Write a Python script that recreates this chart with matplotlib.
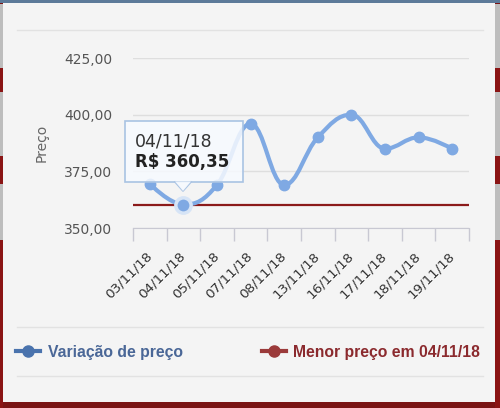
import matplotlib
matplotlib.use("Agg")
import matplotlib.pyplot as plt
from matplotlib.patches import Rectangle, FancyBboxPatch, Polygon, PathPatch
from matplotlib.path import Path
from matplotlib.lines import Line2D

# data
datas = ["03/11/18", "04/11/18", "05/11/18", "07/11/18", "08/11/18",
         "13/11/18", "16/11/18", "17/11/18", "18/11/18", "19/11/18"]
precos = [369.5, 360.35, 369.0, 396.0, 369.0, 390.0, 400.0, 385.0, 390.0, 385.0]
menor_preco = 360.35
yticks = [350, 375, 400, 425]

W, H = 500, 408
fig = plt.figure(figsize=(W / 100, H / 100), dpi=100)
fig.patch.set_facecolor("#7a1414")


def px(x, y):
    # pixel coords (top-left origin) -> figure fraction
    return x / W, 1 - y / H


def spline_path(xs, ys, smoothing=1.5):
    # bezier path through the points, same idea as a highcharts "spline"
    n = len(xs)
    left = [None] * n
    right = [None] * n
    denom = smoothing + 1
    for i in range(1, n - 1):
        lx, ly = xs[i - 1], ys[i - 1]
        nx, ny = xs[i + 1], ys[i + 1]
        x, y = xs[i], ys[i]
        lcx = (smoothing * x + lx) / denom
        lcy = (smoothing * y + ly) / denom
        rcx = (smoothing * x + nx) / denom
        rcy = (smoothing * y + ny) / denom
        corr = (rcy - lcy) * (rcx - x) / (rcx - lcx) + y - rcy
        lcy += corr
        rcy += corr
        if lcy > ly and lcy > y:
            lcy = max(ly, y)
            rcy = 2 * y - lcy
        elif lcy < ly and lcy < y:
            lcy = min(ly, y)
            rcy = 2 * y - lcy
        if rcy > ny and rcy > y:
            rcy = max(ny, y)
            lcy = 2 * y - rcy
        elif rcy < ny and rcy < y:
            rcy = min(ny, y)
            lcy = 2 * y - rcy
        left[i] = (lcx, lcy)
        right[i] = (rcx, rcy)
    verts = [(xs[0], ys[0])]
    codes = [Path.MOVETO]
    for i in range(1, n):
        c1 = right[i - 1] or (xs[i - 1], ys[i - 1])
        c2 = left[i] or (xs[i], ys[i])
        verts += [c1, c2, (xs[i], ys[i])]
        codes += [Path.CURVE4] * 3
    return Path(verts, codes)


# card background
fig.patches.append(Rectangle((3 / W, 1 - 402 / H), 492 / W, 400 / H,
                             transform=fig.transFigure, facecolor="#f4f4f4",
                             edgecolor="none", zorder=-5))
# page behind the card, left and right edges
for xl, wl in [(0, 3), (495, 5)]:
    fig.patches.append(Rectangle((xl / W, 0), wl / W, 1 - 4 / H,
                                 transform=fig.transFigure, facecolor="#bdbdbd",
                                 edgecolor="none", zorder=-6))
    for y0, y1 in [(68, 92), (156, 184), (240, 408)]:
        fig.patches.append(Rectangle((xl / W, 1 - y1 / H), wl / W, (y1 - y0) / H,
                                     transform=fig.transFigure, facecolor="#8a1414",
                                     edgecolor="none", zorder=-6))
fig.patches.append(Rectangle((0, 1 - 3 / H), 1, 3 / H, transform=fig.transFigure,
                             facecolor="#5c7a99", edgecolor="none", zorder=-5))

# separator lines
for yy in [30, 327, 376]:
    fig.add_artist(Line2D([17 / W, 483 / W], [1 - yy / H, 1 - yy / H],
                          transform=fig.transFigure, color="#e2e2e2", lw=1, zorder=-4))

ax = fig.add_axes([133 / W, 1 - 228 / H, 336 / W, 170 / H])
ax.set_zorder(1)
ax.set_facecolor("none")
x = list(range(len(datas)))

ax.set_xlim(-0.5, len(datas) - 0.5)
ax.set_ylim(350, 425)
ax.set_yticks(yticks)
ax.set_yticklabels([f"{v:.2f}".replace(".", ",") for v in yticks])
ax.grid(axis="y", color="#dedede", lw=1)
ax.set_axisbelow(True)
for s in ["top", "right", "left"]:
    ax.spines[s].set_visible(False)
ax.spines["bottom"].set_color("#c8c8d2")
ax.tick_params(axis="y", length=0, pad=15, labelsize=10, labelcolor="#555555")

ax.set_xticks(x)
ax.set_xticklabels(datas, rotation=45, ha="right", va="center",
                   rotation_mode="anchor", fontsize=9.7, color="#333333")
ax.tick_params(axis="x", which="major", length=0, pad=19)
ax.set_xticks([i - 0.5 for i in range(len(datas) + 1)], minor=True)
ax.tick_params(axis="x", which="minor", length=9, color="#c8c8d2", width=1)

ax.set_ylabel("Preço", fontsize=10, color="#666666", labelpad=11)

ax.axhline(menor_preco, color="#8b1a1a", lw=1.6, zorder=2)
ax.add_patch(PathPatch(spline_path(x, precos), facecolor="none",
                       edgecolor="#7fa9e3", lw=3, zorder=3))
ax.plot(x, precos, "o", color="#7fa9e3", ms=7.5, zorder=3)
# hovered point
ax.plot([1], [precos[1]], "o", ms=11, color="#7fa9e3", mec="#d6e4f6", mew=2.5, zorder=4)

# tooltip
tx0, ty0, tx1, ty1 = 125, 121, 243, 182
fig.patches.append(FancyBboxPatch(px(tx0, ty1), (tx1 - tx0) / W, (ty1 - ty0) / H,
                                  boxstyle="square,pad=0", transform=fig.transFigure,
                                  facecolor=(0.97, 0.98, 1.0, 0.85),
                                  edgecolor="#a9c3e3", lw=1.2, zorder=5))
fig.patches.append(Polygon([px(175, 181.5), px(191, 181.5), px(183, 191)],
                           closed=True, transform=fig.transFigure,
                           facecolor=(0.97, 0.98, 1.0, 0.9), edgecolor="none", zorder=6))
fig.add_artist(Line2D([175 / W, 183 / W, 191 / W], [1 - 182 / H, 1 - 191 / H, 1 - 182 / H],
                      transform=fig.transFigure, color="#a9c3e3", lw=1.2, zorder=6))
fig.text(*px(135, 142), "04/11/18", fontsize=12.5, color="#333333", va="center", zorder=7)
fig.text(*px(135, 162), "R$ 360,35", fontsize=12, color="#222222",
         fontweight="bold", va="center", zorder=7)

# legend
fig.add_artist(Line2D([16 / W, 40 / W], [1 - 351 / H] * 2, transform=fig.transFigure,
                      color="#4a73ad", lw=3))
fig.add_artist(Line2D([28 / W], [1 - 351 / H], transform=fig.transFigure,
                      color="#4a73ad", marker="o", ms=8, lw=0))
fig.text(*px(48, 352), "Variação de preço", fontsize=11.3, fontweight="bold",
         family="Liberation Sans", color="#4a6797", va="center")
fig.add_artist(Line2D([262 / W, 286 / W], [1 - 351 / H] * 2, transform=fig.transFigure,
                      color="#9b3a3a", lw=3))
fig.add_artist(Line2D([274 / W], [1 - 351 / H], transform=fig.transFigure,
                      color="#9b3a3a", marker="o", ms=8, lw=0))
fig.text(*px(293, 352), "Menor preço em 04/11/18", fontsize=11.3, fontweight="bold",
         family="Liberation Sans", color="#8b2a2e", va="center")

fig.savefig("out.png", dpi=100, facecolor=fig.get_facecolor())
